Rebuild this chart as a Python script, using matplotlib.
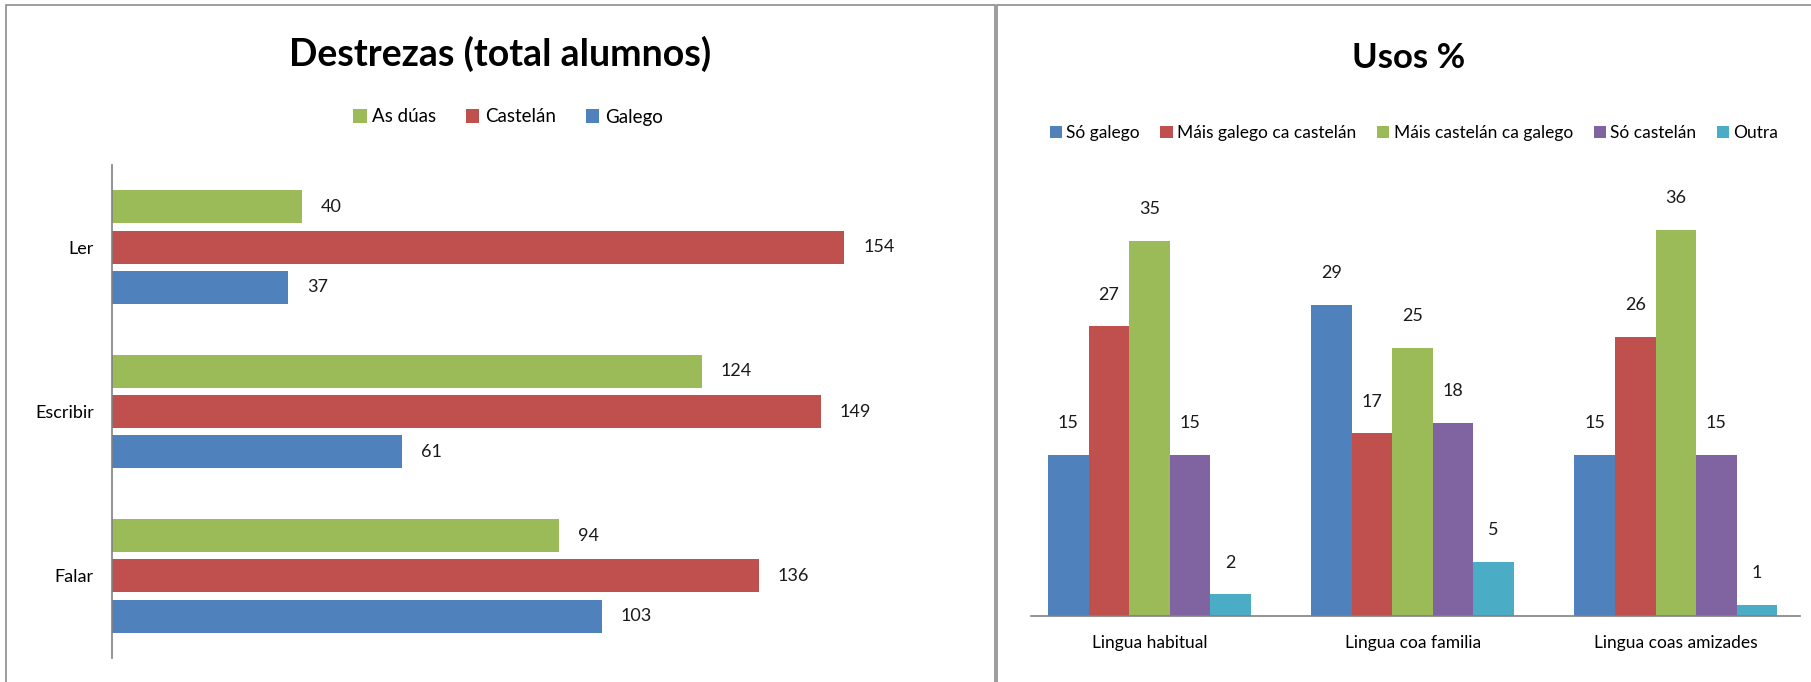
import matplotlib
matplotlib.use("Agg")
import matplotlib.pyplot as plt
import numpy as np
from matplotlib.patches import Rectangle, Patch

plt.rcParams['font.family'] = ['Lato', 'DejaVu Sans']

# Left chart data
skills = ["Falar", "Escribir", "Ler"]
left_series = ["As dúas", "Castelán", "Galego"]
as_duas = [94, 124, 40]
castelan = [136, 149, 154]
galego = [103, 61, 37]
left_colors = ["#9BBB59", "#C0504D", "#4F81BD"]

# Right chart data
uses = ["Lingua habitual", "Lingua coa familia", "Lingua coas amizades"]
right_series = ["Só galego", "Máis galego ca castelán", "Máis castelán ca galego", "Só castelán", "Outra"]
so_galego = [15, 29, 15]
mais_galego = [27, 17, 26]
mais_castelan = [35, 25, 36]
so_castelan = [15, 18, 15]
outra = [2, 5, 1]
right_colors = ["#4F81BD", "#C0504D", "#9BBB59", "#8064A2", "#4BACC6"]

W, H = 1811, 682
fig = plt.figure(figsize=(W / 100, H / 100), dpi=100)

# panel borders
fig.add_artist(Rectangle((6 / W, -0.01), (995 - 6) / W, 1 - 5 / H + 0.01, transform=fig.transFigure,
                         fill=False, edgecolor="#8C8C8C", linewidth=1.2))
fig.add_artist(Rectangle((997 / W, -0.01), (W + 5 - 997) / W, 1 - 5 / H + 0.01, transform=fig.transFigure,
                         fill=False, edgecolor="#8C8C8C", linewidth=1.2))

# ---------- Left chart ----------
axL = fig.add_axes([112 / W, 1 - 658 / H, (968 - 112) / W, (658 - 165) / H])
y = np.arange(len(skills))
h = 0.2
off = 0.245
for vals, dy, col in zip([as_duas, castelan, galego], [off, 0, -off], left_colors):
    bars = axL.barh(y + dy, vals, height=h, color=col, edgecolor="none")
    for b, v in zip(bars, vals):
        axL.text(b.get_width() + 4, b.get_y() + b.get_height() / 2, str(v),
                 va="center", ha="left", fontsize=13, color="#1a1a1a")
axL.set_xlim(0, 180)
axL.set_ylim(-0.5, 2.5)
axL.set_yticks(y)
axL.set_yticklabels(skills, fontsize=13)
axL.tick_params(axis="y", length=0, pad=13)
axL.set_xticks([])
for s in ["top", "right", "bottom"]:
    axL.spines[s].set_visible(False)
axL.spines["left"].set_color("#808080")
axL.spines["left"].set_linewidth(1.2)

fig.text(500 / W, 1 - 54 / H, "Destrezas (total alumnos)", ha="center", va="center",
         fontsize=27, fontweight="bold")
handlesL = [Patch(facecolor=c, edgecolor="none") for c in left_colors]
fig.legend(handlesL, left_series, loc="center", bbox_to_anchor=(508 / W, 1 - 117 / H),
           ncol=3, frameon=False, fontsize=13.5, handlelength=0.7, handleheight=0.7,
           handletextpad=0.3, columnspacing=1.6)

# ---------- Right chart ----------
axR = fig.add_axes([1031 / W, 1 - 615.6 / H, (1799.5 - 1031) / W, (615.6 - 187) / H])
x = np.arange(len(uses))
w = 0.154
for i, (vals, col) in enumerate(zip([so_galego, mais_galego, mais_castelan, so_castelan, outra], right_colors)):
    bars = axR.bar(x + (i - 2) * w, vals, width=w, color=col, edgecolor="none")
    for b, v in zip(bars, vals):
        axR.text(b.get_x() + b.get_width() / 2, b.get_height() + 2.2, str(v),
                 ha="center", va="bottom", fontsize=13, color="#1a1a1a")
axR.set_xlim(-0.45, 2.47)
axR.set_ylim(0, 40)
axR.set_xticks(x)
axR.set_xticklabels(uses, fontsize=12.5)
axR.tick_params(axis="x", length=0, pad=14)
axR.set_yticks([])
for s in ["top", "right", "left"]:
    axR.spines[s].set_visible(False)
axR.spines["bottom"].set_color("#808080")
axR.spines["bottom"].set_linewidth(1.2)

fig.text(1409 / W, 1 - 58 / H, "Usos %", ha="center", va="center", fontsize=25, fontweight="bold")
handlesR = [Patch(facecolor=c, edgecolor="none") for c in right_colors]
fig.legend(handlesR, right_series, loc="center", bbox_to_anchor=(1414 / W, 1 - 133 / H),
           ncol=5, frameon=False, fontsize=12.5, handlelength=0.7, handleheight=0.7,
           handletextpad=0.25, columnspacing=1.2)

fig.savefig("out.png", dpi=100)
